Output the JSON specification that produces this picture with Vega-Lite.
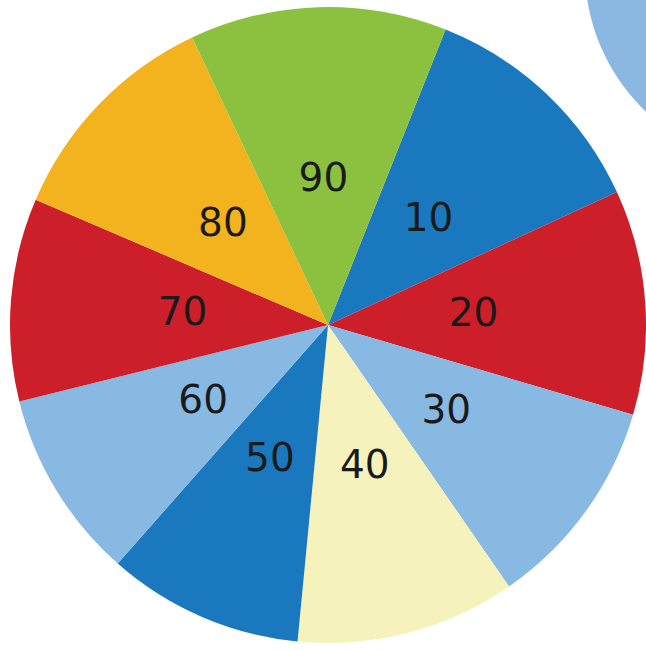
{
  "$schema": "https://vega.github.io/schema/vega-lite/v6.json",
  "autosize": "none",
  "padding": {"left": 10, "top": 0, "right": 0, "bottom": 0},
  "width": 636,
  "height": 650,
  "background": "white",
  "view": {"stroke": null},
  "datasets": {
    "slices": [
      {"slice": 1, "label": "10", "angle": 43.6},
      {"slice": 2, "label": "20", "angle": 41.1},
      {"slice": 3, "label": "30", "angle": 38.9},
      {"slice": 4, "label": "40", "angle": 40.2},
      {"slice": 5, "label": "50", "angle": 35.9},
      {"slice": 6, "label": "60", "angle": 34.7},
      {"slice": 7, "label": "70", "angle": 37.1},
      {"slice": 8, "label": "80", "angle": 41.5},
      {"slice": 9, "label": "90", "angle": 47.0}
    ],
    "corner": [
      {"name": "corner circle", "cx": 780, "cy": -30}
    ]
  },
  "layer": [
    {
      "data": {"name": "corner"},
      "mark": {"type": "point", "filled": true, "opacity": 1, "shape": "circle", "size": 152100, "color": "#8ab8e0"},
      "encoding": {
        "x": {"field": "cx", "type": "quantitative", "scale": {"domain": [10, 646], "nice": false, "zero": false}, "axis": null},
        "y": {"field": "cy", "type": "quantitative", "scale": {"domain": [0, 650], "nice": false, "zero": false, "reverse": true}, "axis": null}
      }
    },
    {
      "data": {"name": "slices"},
      "encoding": {
        "theta": {"field": "angle", "type": "quantitative", "stack": true, "scale": {"domain": [0, 360], "range": [0.3787, 6.6619]}},
        "order": {"field": "slice", "type": "quantitative", "sort": "ascending"}
      },
      "layer": [
        {
          "mark": {"type": "arc", "outerRadius": 318},
          "encoding": {
            "color": {
              "field": "label",
              "type": "nominal",
              "scale": {
                "domain": ["10", "20", "30", "40", "50", "60", "70", "80", "90"],
                "range": ["#1a78bf", "#cc1f2a", "#88b9e3", "#f6f2bb", "#1a78bf", "#88b9e3", "#cc1f2a", "#f2b31f", "#8cc13f"]
              },
              "legend": null
            }
          }
        },
        {
          "mark": {"type": "text", "radius": 146, "fontSize": 39, "font": "DejaVu Sans", "color": "#1a1a1a", "align": "center", "baseline": "middle"},
          "encoding": {
            "text": {"field": "label", "type": "nominal"}
          }
        }
      ]
    }
  ]
}
